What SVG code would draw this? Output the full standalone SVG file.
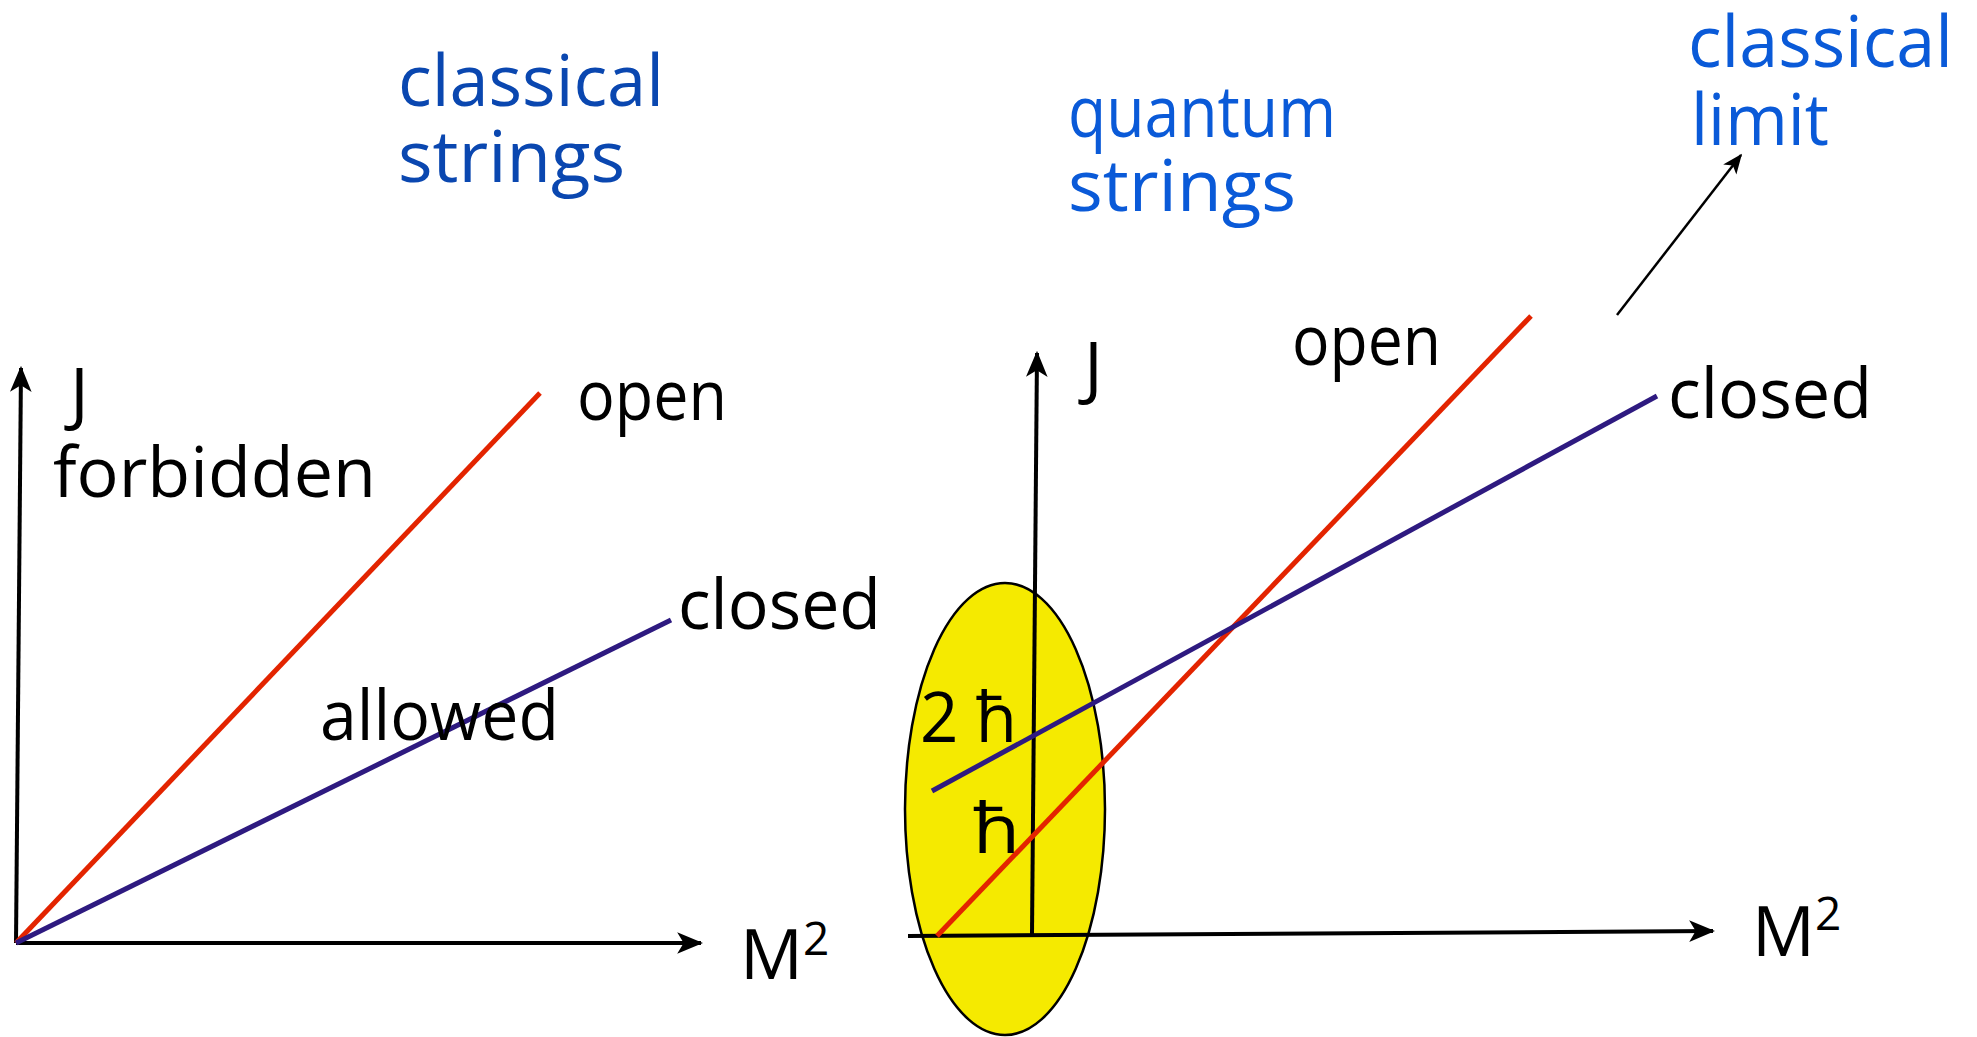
<svg xmlns="http://www.w3.org/2000/svg" width="1977" height="1037" viewBox="0 0 1977 1037">
<style>
  .lbl { font-family: "Comic Sans MS", "Open Sans", "DejaVu Sans", sans-serif; font-size: 70px; fill: #000; }
  .blue1 { font-family: "Comic Sans MS", "Open Sans", "DejaVu Sans", sans-serif; font-size: 72px; fill: #0a47b0; }
  .blue2 { font-family: "Comic Sans MS", "Open Sans", "DejaVu Sans", sans-serif; font-size: 72px; fill: #0a5ad8; }
  .axis { stroke: #000; stroke-width: 4; fill: none; }
  .open { stroke: #e32400; stroke-width: 5; fill: none; }
  .closed { stroke: #2e1a80; stroke-width: 5; fill: none; }
</style>
<defs>
  <marker id="arr" viewBox="0 0 24 20" refX="22" refY="10" markerWidth="26" markerHeight="22" markerUnits="userSpaceOnUse" orient="auto">
    <path d="M0,0 L24,10 L0,20 L6,10 Z" fill="#000"/>
  </marker>
  <marker id="arrs" viewBox="0 0 24 20" refX="22" refY="10" markerWidth="20" markerHeight="17" markerUnits="userSpaceOnUse" orient="auto">
    <path d="M0,0 L24,10 L0,20 L6,10 Z" fill="#000"/>
  </marker>
</defs>
<rect width="1977" height="1037" fill="#fff"/>

<g id="title-classical-strings">
  <text class="blue1" x="398" y="106" textLength="266" lengthAdjust="spacingAndGlyphs">classical</text>
  <text class="blue1" x="398" y="182" textLength="227" lengthAdjust="spacingAndGlyphs">strings</text>
</g>
<g id="title-quantum-strings">
  <text class="blue2" x="1068" y="137" textLength="268" lengthAdjust="spacingAndGlyphs">quantum</text>
  <text class="blue2" x="1068" y="211" textLength="228" lengthAdjust="spacingAndGlyphs">strings</text>
</g>
<g id="title-classical-limit">
  <text class="blue2" x="1688" y="67" font-size="64" textLength="265" lengthAdjust="spacingAndGlyphs">classical</text>
  <text class="blue2" x="1691" y="145" textLength="138" lengthAdjust="spacingAndGlyphs">limit</text>
</g>

<g id="hbar-region">
  <ellipse cx="1005" cy="809" rx="100" ry="226" fill="#f5ea00" stroke="#000" stroke-width="2.5"/>
</g>

<g id="connectors">
  <!-- left plot -->
  <line class="axis" x1="16" y1="943" x2="21" y2="368" marker-end="url(#arr)"/>
  <line class="axis" x1="16" y1="943" x2="701" y2="943" marker-end="url(#arr)"/>
  <line class="open" x1="16" y1="943" x2="540" y2="393"/>
  <line class="closed" x1="16" y1="943" x2="671" y2="620"/>
  <!-- right plot -->
  <line class="axis" x1="1032" y1="934" x2="1037" y2="353" marker-end="url(#arr)"/>
  <line class="axis" x1="908" y1="936" x2="1713" y2="931" marker-end="url(#arr)"/>
  <line class="open" x1="937" y1="936" x2="1531" y2="316"/>
  <line class="closed" x1="932" y1="791" x2="1657" y2="396"/>
  <!-- classical limit arrow -->
  <line x1="1617" y1="315" x2="1741" y2="155" stroke="#000" stroke-width="2.5" marker-end="url(#arrs)"/>
</g>

<g id="left-labels">
  <text class="lbl" x="70" y="418">J</text>
  <text class="lbl" x="53" y="497" textLength="323" lengthAdjust="spacingAndGlyphs">forbidden</text>
  <text class="lbl" x="577" y="420" textLength="150" lengthAdjust="spacingAndGlyphs">open</text>
  <text class="lbl" x="678" y="629" textLength="203" lengthAdjust="spacingAndGlyphs">closed</text>
  <text class="lbl" x="320" y="740" textLength="239" lengthAdjust="spacingAndGlyphs">allowed</text>
  <text class="lbl" x="740" y="979">M<tspan font-size="46" dy="-24">2</tspan></text>
</g>

<g id="right-labels">
  <text class="lbl" x="1084" y="392">J</text>
  <text class="lbl" x="1292" y="365" textLength="149" lengthAdjust="spacingAndGlyphs">open</text>
  <text class="lbl" x="1668" y="418" textLength="204" lengthAdjust="spacingAndGlyphs">closed</text>
  <text class="lbl" x="1752" y="956">M<tspan font-size="46" dy="-26">2</tspan></text>
  <text class="lbl" x="920" y="742" textLength="97" lengthAdjust="spacingAndGlyphs">2 ħ</text>
  <text class="lbl" x="973" y="853" textLength="47" lengthAdjust="spacingAndGlyphs">ħ</text>
</g>
</svg>
